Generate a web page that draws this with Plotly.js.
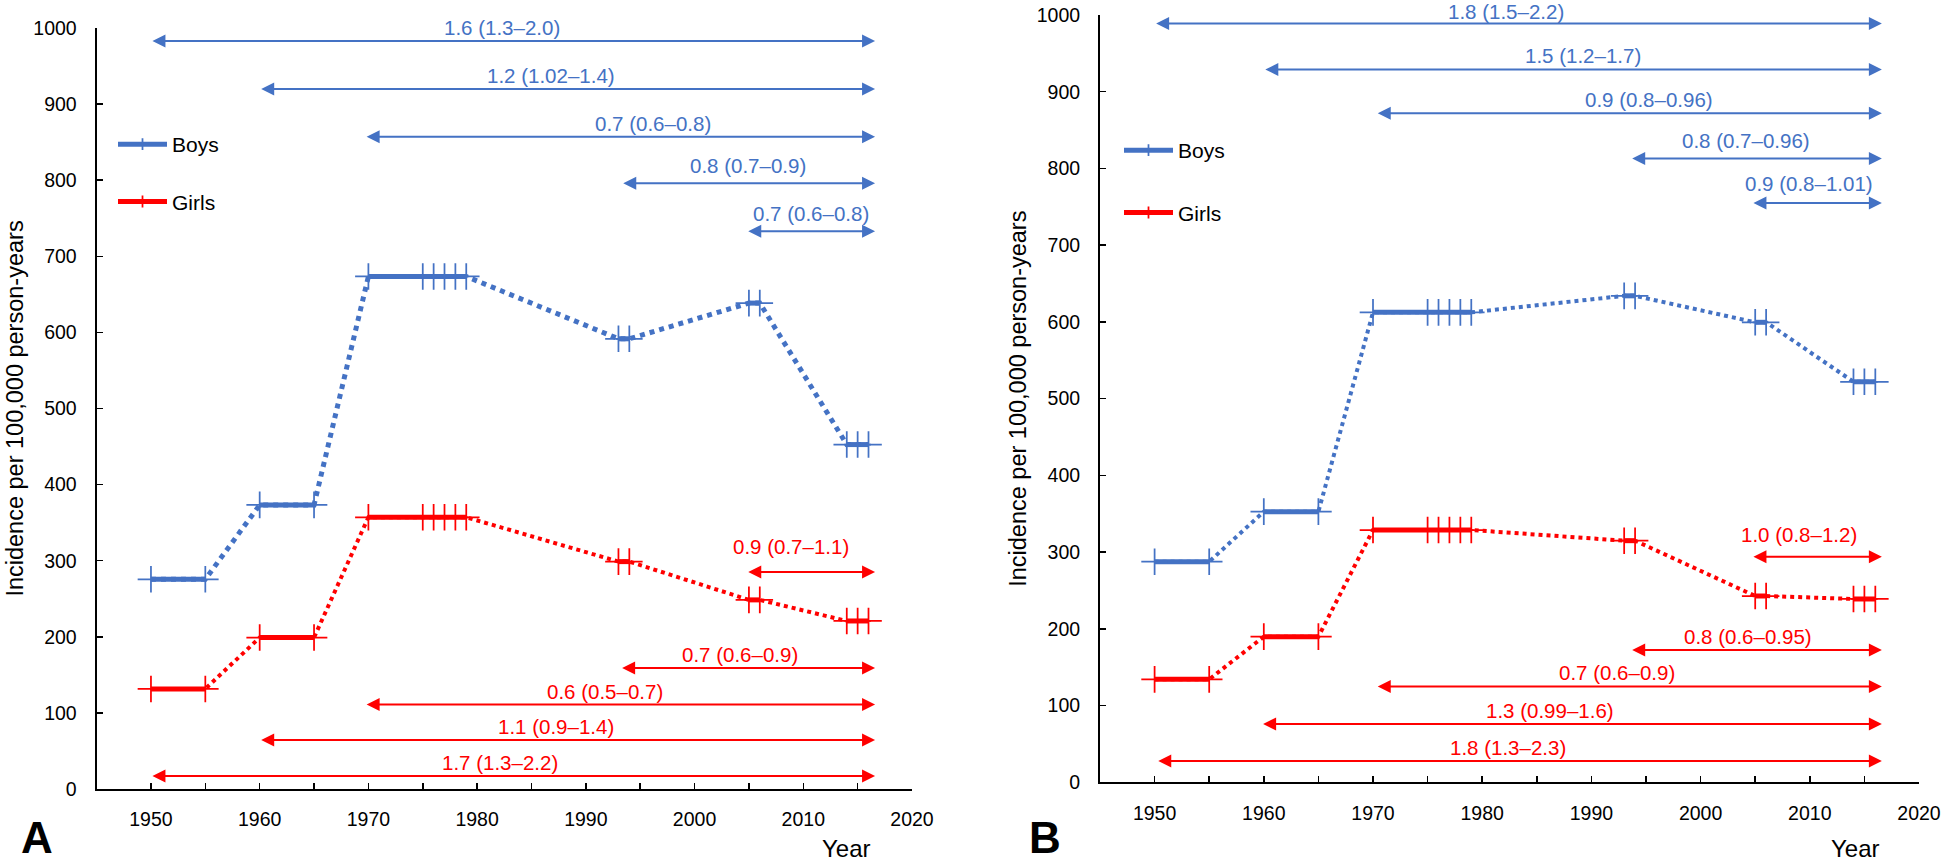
<!DOCTYPE html>
<html>
<head>
<meta charset="utf-8">
<script src="https://cdn.plot.ly/plotly-3.0.1.min.js"></script>
<style>
  html, body { margin: 0; padding: 0; background: #fff; }
  #chart { width: 1941px; height: 864px; }
</style>
</head>
<body>
<div id="chart"></div>
<script>
// === Data: study periods (years) and incidence per 100,000 person-years ===
const periodYears = [[1950, 1955], [1960, 1965], [1970, 1975, 1976, 1977, 1978, 1979], [1993, 1994], [2005, 2006], [2014, 2015, 2016]];

// Panel A
const boysA = [275.6, 373.3, 673.5, 591.6, 638.5, 452.6];
const girlsA = [131.5, 199, 357.1, 298.8, 248.5, 220.8];
// Panel B
const boysB = [287.5, 352.7, 612.5, 634, 599.5, 522];
const girlsB = [134.2, 189.8, 328.8, 314.9, 242.8, 238.9];

// === Rate ratio arrows (start year, level, label, label centre, label lift in px) ===
const arrowEnd = 2016.6;

const boysArrowStartA = [1950, 1960, 1969.7, 1993.3, 2004.8];
const boysArrowYA = [983, 920, 857, 796, 733];
const boysLabelA = ['1.6 (1.3–2.0)', '1.2 (1.02–1.4)', '0.7 (0.6–0.8)', '0.8 (0.7–0.9)', '0.7 (0.6–0.8)'];
const boysLabelXA = [1982.3, 1986.8, 1996.2, 2004.9, 2010.7];
const boysLiftA = [0, 0, 0, 4, 4];

const girlsArrowStartA = [2004.8, 1993.2, 1969.7, 1960, 1950];
const girlsArrowYA = [285, 159, 111, 64.4, 17];
const girlsLabelA = ['0.9 (0.7–1.1)', '0.7 (0.6–0.9)', '0.6 (0.5–0.7)', '1.1 (0.9–1.4)', '1.7 (1.3–2.2)'];
const girlsLabelXA = [2008.9, 2004.2, 1991.8, 1987.3, 1982.1];
const girlsLiftA = [12, 0, 0, 0, 0];

const boysArrowStartB = [1950, 1960, 1970.3, 1993.6, 2004.7];
const boysArrowYB = [989, 929, 872, 813, 755];
const boysLabelB = ['1.8 (1.5–2.2)', '1.5 (1.2–1.7)', '0.9 (0.8–0.96)', '0.8 (0.7–0.96)', '0.9 (0.8–1.01)'];
const boysLabelXB = [1982.2, 1989.2, 1995.3, 2004.2, 2009.9];
const boysLiftB = [-2, 0, 0, 4, 6];

const girlsArrowStartB = [2004.7, 1993.6, 1970.3, 1959.8, 1950.2];
const girlsArrowYB = [294, 172.5, 125, 76, 27.8];
const girlsLabelB = ['1.0 (0.8–1.2)', '0.8 (0.6–0.95)', '0.7 (0.6–0.9)', '1.3 (0.99–1.6)', '1.8 (1.3–2.3)'];
const girlsLabelXB = [2009.0, 2004.3, 1992.3, 1986.2, 1982.4];
const girlsLiftB = [9, 0, 0, 0, 0];

const BLUE = '#4472C4';
const RED = '#FF0000';
const FONT = 'Liberation Sans, Arial, Helvetica, sans-serif';

// === Helper: dotted trend + solid period segments with "+" markers ===
function seriesTraces(vals, color, xa, ya, dotWidth) {
  const xs = [], ys = [], xg = [], yg = [];
  periodYears.forEach((yrs, i) => {
    yrs.forEach(yr => {
      xs.push(yr); ys.push(vals[i]);
      xg.push(yr); yg.push(vals[i]);
    });
    xg.push(null); yg.push(null);
  });
  const dotted = {
    x: xs, y: ys, xaxis: xa, yaxis: ya, type: 'scatter', mode: 'lines',
    line: { color: color, width: dotWidth, dash: 'dot' },
    showlegend: false, hoverinfo: 'skip'
  };
  const solid = {
    x: xg, y: yg, xaxis: xa, yaxis: ya, type: 'scatter', mode: 'lines+markers',
    connectgaps: false, showlegend: false,
    line: { color: color, width: 5 },
    marker: { symbol: 'cross-thin', size: 19, color: color, line: { color: color, width: 1.75 } }
  };
  return [dotted, solid];
}

// legend-only entries (smaller "+" like the original key)
function legendTrace(name, color, legendId, group) {
  return {
    x: [null], y: [null], type: 'scatter', mode: 'lines+markers', name: name,
    legend: legendId, legendgroup: group,
    line: { color: color, width: 5 },
    marker: { symbol: 'cross-thin', size: 8.5, color: color, line: { color: color, width: 1.75 } }
  };
}

// === Helper: double-headed arrows + labels ===
function arrowAnnotations(starts, ys, labels, labelXs, lifts, color, xr, yr) {
  const out = [];
  starts.forEach((s, i) => {
    out.push({
      x: arrowEnd, y: ys[i], ax: s, ay: ys[i],
      xref: xr, yref: yr, axref: xr, ayref: yr,
      text: '', showarrow: true, arrowside: 'end+start',
      arrowhead: 2, startarrowhead: 2, arrowsize: 1.3, startarrowsize: 1.3,
      arrowwidth: 2, arrowcolor: color
    });
    out.push({
      x: labelXs[i], y: ys[i], xref: xr, yref: yr,
      text: labels[i], showarrow: false, xanchor: 'center', yanchor: 'bottom', yshift: lifts[i],
      font: { family: FONT, size: 20.5, color: color }
    });
  });
  return out;
}

const traces = [
  ...seriesTraces(boysA, BLUE, 'x', 'y', 5),
  ...seriesTraces(girlsA, RED, 'x', 'y', 4),
  ...seriesTraces(boysB, BLUE, 'x2', 'y2', 4),
  ...seriesTraces(girlsB, RED, 'x2', 'y2', 4),
  legendTrace('Boys', BLUE, 'legend', 'b'),
  legendTrace('Girls', RED, 'legend', 'g'),
  legendTrace('Boys', BLUE, 'legend2', 'b2'),
  legendTrace('Girls', RED, 'legend2', 'g2')
];

const xTicks = [1950, 1960, 1970, 1980, 1990, 2000, 2010, 2020];

function xAxis(domain, anchor) {
  return {
    domain: domain, anchor: anchor, range: [1945, 2020],
    tickvals: xTicks, ticktext: xTicks.map(String),
    ticks: 'inside', ticklen: 6, tickwidth: 1.5, tickcolor: '#000',
    minor: { dtick: 5, tick0: 1945, ticks: 'inside', ticklen: 6, tickwidth: 1.5, tickcolor: '#000' },
    showline: true, linecolor: '#000', linewidth: 2,
    showgrid: false, zeroline: false,
    ticklabelstandoff: 12,
    tickfont: { family: FONT, size: 19.5, color: '#000' }
  };
}

function yAxis(domain, anchor) {
  return {
    domain: domain, anchor: anchor, range: [0, 1000], dtick: 100,
    ticks: 'inside', ticklen: 6, tickwidth: 1.5, tickcolor: '#000',
    showline: true, linecolor: '#000', linewidth: 2,
    showgrid: false, zeroline: false,
    ticklabelstandoff: 14,
    tickfont: { family: FONT, size: 19.5, color: '#000' },
    title: { text: 'Incidence per 100,000 person-years', standoff: 3, font: { family: FONT, size: 23.5, color: '#000' } }
  };
}

const W = 1941, H = 864;

// text pinned to the bottom edge of the picture
function bottomLabel(text, px, size, bold) {
  return {
    text: text, xref: 'paper', yref: 'paper', x: px / W, y: 0,
    xanchor: 'center', yanchor: 'bottom', showarrow: false,
    font: { family: FONT, size: size, color: '#000', weight: bold ? 'bold' : 'normal' }
  };
}

const layout = {
  width: W, height: H,
  margin: { l: 0, r: 0, t: 0, b: 0 },
  paper_bgcolor: '#fff', plot_bgcolor: '#fff',
  font: { family: FONT, color: '#000' },
  xaxis: xAxis([96.6 / W, 912 / W], 'y'),
  yaxis: yAxis([(H - 789) / H, (H - 28) / H], 'x'),
  xaxis2: xAxis([1100 / W, 1919 / W], 'y2'),
  yaxis2: yAxis([(H - 782.3) / H, (H - 15) / H], 'x2'),
  legend: {
    x: 113 / W, y: (H - 124) / H, xanchor: 'left', yanchor: 'top',
    bgcolor: 'rgba(0,0,0,0)', borderwidth: 0, itemwidth: 49,
    traceorder: 'grouped', tracegroupgap: 27,
    font: { family: FONT, size: 21, color: '#000' }
  },
  legend2: {
    x: 1119 / W, y: (H - 130) / H, xanchor: 'left', yanchor: 'top',
    bgcolor: 'rgba(0,0,0,0)', borderwidth: 0, itemwidth: 49,
    traceorder: 'grouped', tracegroupgap: 32,
    font: { family: FONT, size: 21, color: '#000' }
  },
  showlegend: true,
  annotations: [
    ...arrowAnnotations(boysArrowStartA, boysArrowYA, boysLabelA, boysLabelXA, boysLiftA, BLUE, 'x', 'y'),
    ...arrowAnnotations(girlsArrowStartA, girlsArrowYA, girlsLabelA, girlsLabelXA, girlsLiftA, RED, 'x', 'y'),
    ...arrowAnnotations(boysArrowStartB, boysArrowYB, boysLabelB, boysLabelXB, boysLiftB, BLUE, 'x2', 'y2'),
    ...arrowAnnotations(girlsArrowStartB, girlsArrowYB, girlsLabelB, girlsLabelXB, girlsLiftB, RED, 'x2', 'y2'),
    bottomLabel('A', 37, 44, true),
    bottomLabel('B', 1045, 44, true),
    bottomLabel('Year', 846, 24, false),
    bottomLabel('Year', 1855, 24, false)
  ]
};

Plotly.newPlot('chart', traces, layout, { staticPlot: true });
</script>
</body>
</html>
